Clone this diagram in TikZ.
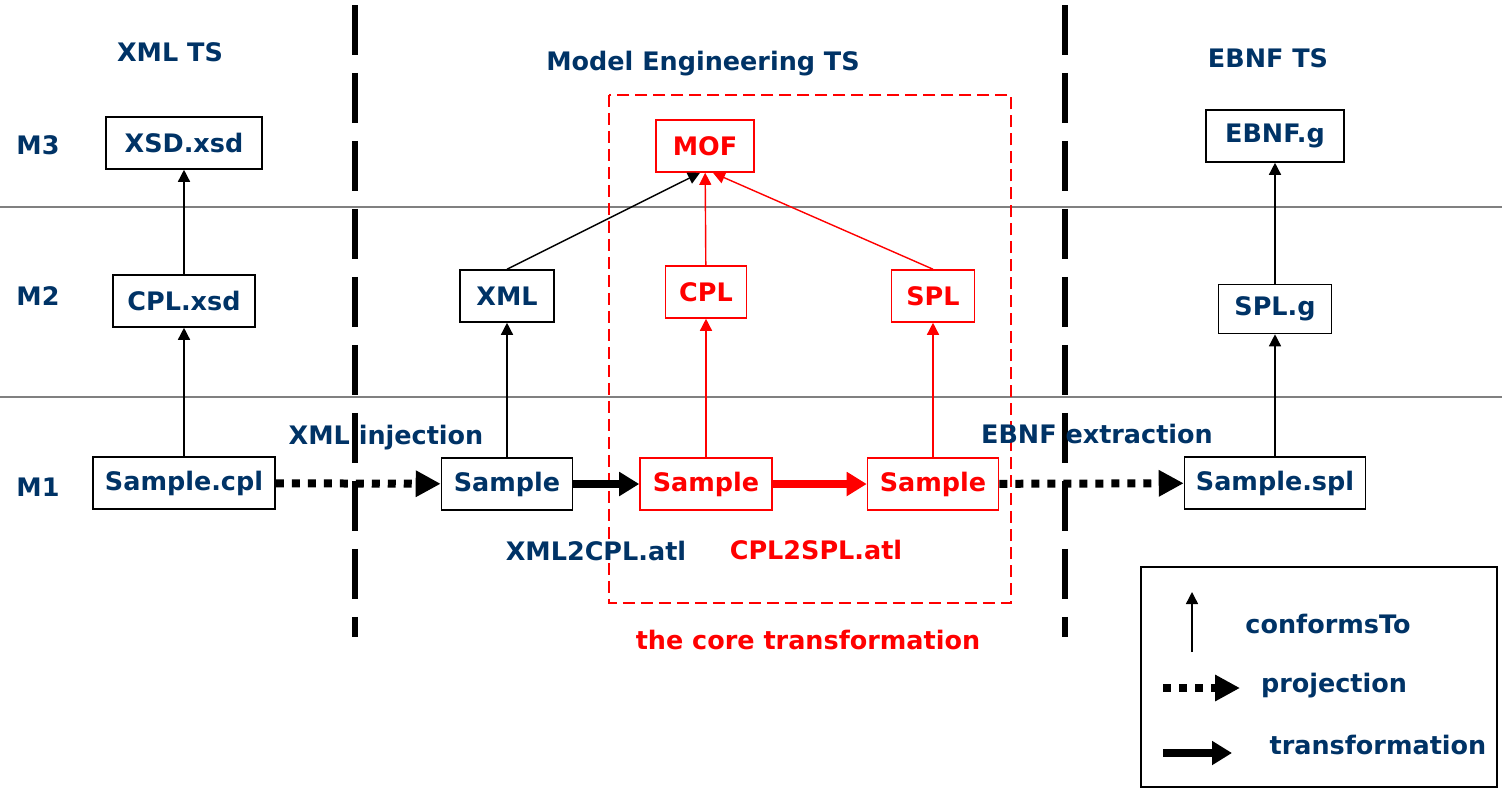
\documentclass[tikz,border=0pt]{standalone}
\usepackage{fontspec}
\setmainfont{DejaVu Sans}
\usetikzlibrary{arrows.meta, positioning}
\definecolor{navy}{HTML}{003366}

\begin{document}
\begin{tikzpicture}[x=0.02cm, y=-0.02cm,
    every node/.style={font=\fontsize{14.5}{17}\selectfont\bfseries, text=navy},
    box/.style={draw, line width=0.9pt, minimum height=1.04cm, inner sep=0pt},
    redbox/.style={box, draw=red, text=red},
    conf/.style={-{Triangle[length=0.24cm, width=0.24cm]}, line width=0.8pt},
    proj/.style={-{Triangle[length=0.5cm, width=0.5cm]}, line width=0.16cm, dash pattern=on 0.16cm off 0.16cm},
    trans/.style={-{Triangle[length=0.4cm, width=0.46cm]}, line width=0.16cm},
    sep/.style={line width=0.12cm, dash pattern=on 1cm off 0.36cm}]
    \useasboundingbox (0,0) rectangle (1502,788);

    % Levels and spaces
    \draw[gray, line width=0.7pt] (0,207) -- (1502,207);
    \draw[gray, line width=0.7pt] (0,397) -- (1502,397);
    \draw[sep] (355,5) -- (355,637);
    \draw[sep] (1065,5) -- (1065,637);
    \draw[red, line width=1.1pt, dash pattern=on 0.24cm off 0.12cm] (609,95) rectangle (1011,603);

    % Headings
    \node (tsxml) at (170,52) {XML TS};
    \node (tsme) at (703,64) {Model Engineering TS};
    \node (tsebnf) at (1268,58) {EBNF TS};
    \node (m3) at (38,145) {M3};
    \node (m2) at (38,296) {M2};
    \node (m1) at (38,487) {M1};

    % XML TS
    \node[box, minimum width=3.12cm] (xsd) at (184,143) {XSD.xsd};
    \node[box, minimum width=2.84cm] (cplxsd) at (184,301) {CPL.xsd};
    \node[box, minimum width=3.64cm] (samplecpl) at (184,483) {Sample.cpl};

    % Model Engineering TS
    \node[box, minimum width=1.88cm] (xml) at (507,296) {XML};
    \node[box, minimum width=2.62cm] (samplexml) at (507,484) {Sample};
    \node[redbox, minimum width=1.96cm] (mof) at (705,146) {MOF};
    \node[redbox, minimum width=1.62cm] (cpl) at (706,292) {CPL};
    \node[redbox, minimum width=1.66cm] (spl) at (933,296) {SPL};
    \node[redbox, minimum width=2.64cm] (samplecplr) at (706,484) {Sample};
    \node[redbox, minimum width=2.62cm] (samplesplr) at (933,484) {Sample};

    % EBNF TS
    \node[box, minimum width=2.76cm] (ebnf) at (1275,136) {EBNF.g};
    \node[box, minimum width=2.26cm, minimum height=0.98cm] (splg) at (1275,309) {SPL.g};
    \node[box, minimum width=3.62cm] (samplespl) at (1275,483) {Sample.spl};

    % conformsTo
    \draw[conf] (samplecpl) -- (cplxsd);
    \draw[conf] (cplxsd) -- (xsd);
    \draw[conf] (samplexml) -- (xml);
    \draw[conf] (xml.north) -- ([xshift=-0.1cm]mof.south);
    \draw[conf, red] (samplecplr) -- (cpl);
    \draw[conf, red] (cpl) -- (mof);
    \draw[conf, red] (samplesplr) -- (spl);
    \draw[conf, red] (spl.north) -- ([xshift=0.16cm]mof.south);
    \draw[conf] (samplespl) -- (splg);
    \draw[conf] (splg) -- (ebnf);

    % Projections and transformations
    \draw[proj] (samplecpl) -- (samplexml);
    \draw[trans] (samplexml) -- (samplecplr);
    \draw[trans, red] (samplecplr) -- (samplesplr);
    \draw[proj] (samplesplr) -- (samplespl);

    % Labels
    \node (inj) at (386,438) {XML injection};
    \node (ext) at (1097,434) {EBNF extraction};
    \node (xml2cpl) at (596,551) {XML2CPL.atl};
    \node[text=red] (cpl2spl) at (816,550) {CPL2SPL.atl};
    \node[text=red] (core) at (808,640) {the core transformation};

    % Legend
    \draw[line width=0.9pt] (1141,567) rectangle (1497,787);
    \coordinate (ca) at (1192,652);
    \coordinate (cb) at (1192,592);
    \coordinate (pa) at (1163,688);
    \coordinate (pb) at (1240,688);
    \coordinate (ta) at (1163,753);
    \coordinate (tb) at (1232,753);
    \draw[conf] (ca) -- (cb);
    \draw[proj] (pa) -- (pb);
    \draw[trans] (ta) -- (tb);
    \node (lconf) at (1328,624) {conformsTo};
    \node (lproj) at (1334,686) {projection};
    \node (ltrans) at (1378,745) {transformation};
\end{tikzpicture}
\end{document}
